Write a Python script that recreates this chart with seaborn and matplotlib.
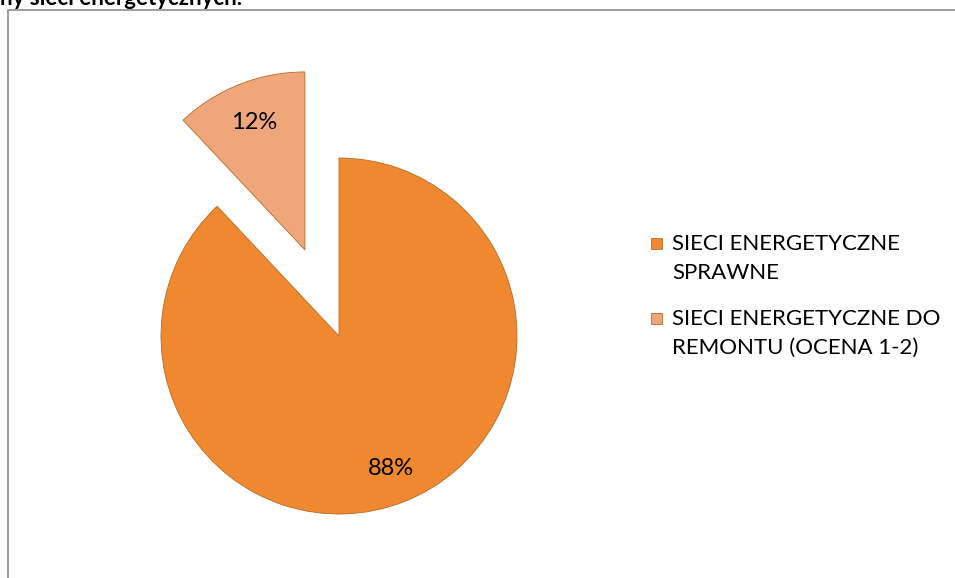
import seaborn as sns
import matplotlib.pyplot as plt
import numpy as np
from matplotlib.patches import Rectangle

# Data
labels = ["SIECI ENERGETYCZNE\nSPRAWNE", "SIECI ENERGETYCZNE DO\nREMONTU (OCENA 1-2)"]
values = [88, 12]
colors = ["#F0882F", "#F0A67B"]
explode = [0, 0.52]
title_fragment = "ny sieci energetycznych."

sns.set_theme(style="white")
plt.rcParams["font.family"] = ["Lato", "DejaVu Sans"]

fig = plt.figure(figsize=(9.55, 5.78), dpi=100)

# chart frame (cropped on right and bottom)
fig.patches.append(Rectangle((8 / 955, -0.05), 1.2, 1 - 10 / 578 + 0.05,
                             transform=fig.transFigure, fill=False,
                             edgecolor="#8c8c8c", linewidth=1.2))

# cropped title at the very top
fig.text(0.0, 1 - 5 / 578, title_fragment, fontsize=16, fontweight="bold",
         ha="left", va="baseline", color="black")

# pie: center at (339, 336) px, radius ~178 px
lim = 1.5
r_px = 178
w_px = 2 * lim * r_px
ax = fig.add_axes([(339 - w_px / 2) / 955, (578 - 336 - w_px / 2) / 578,
                   w_px / 955, w_px / 578])
wedges, texts = ax.pie(values, colors=colors, explode=explode, startangle=90,
                       counterclock=False, labels=None,
                       wedgeprops=dict(edgecolor="#b86a25", linewidth=0.6))
for w, v in zip(wedges, values):
    ang = np.deg2rad((w.theta1 + w.theta2) / 2)
    cx, cy = w.center
    d = 0.8 if v > 50 else 0.77
    ax.text(cx + d * np.cos(ang), cy + d * np.sin(ang), f"{v}%",
            ha="center", va="center", fontsize=17, color="black")
ax.set_xlim(-lim, lim)
ax.set_ylim(-lim, lim)
ax.set_aspect("equal")
ax.axis("off")

# legend drawn by hand so the square sits on the first line
leg_tops = [234, 309]
for lab, col, top in zip(labels, colors, leg_tops):
    fig.text(672 / 955, 1 - top / 578, lab, fontsize=16, ha="left", va="top",
             linespacing=1.55, color="black")
    fig.patches.append(Rectangle((651 / 955, 1 - (top + 15) / 578), 11 / 955, 11 / 578,
                                 transform=fig.transFigure, facecolor=col,
                                 edgecolor="#b86a25", linewidth=0.6))

fig.savefig("out.png", dpi=100)
